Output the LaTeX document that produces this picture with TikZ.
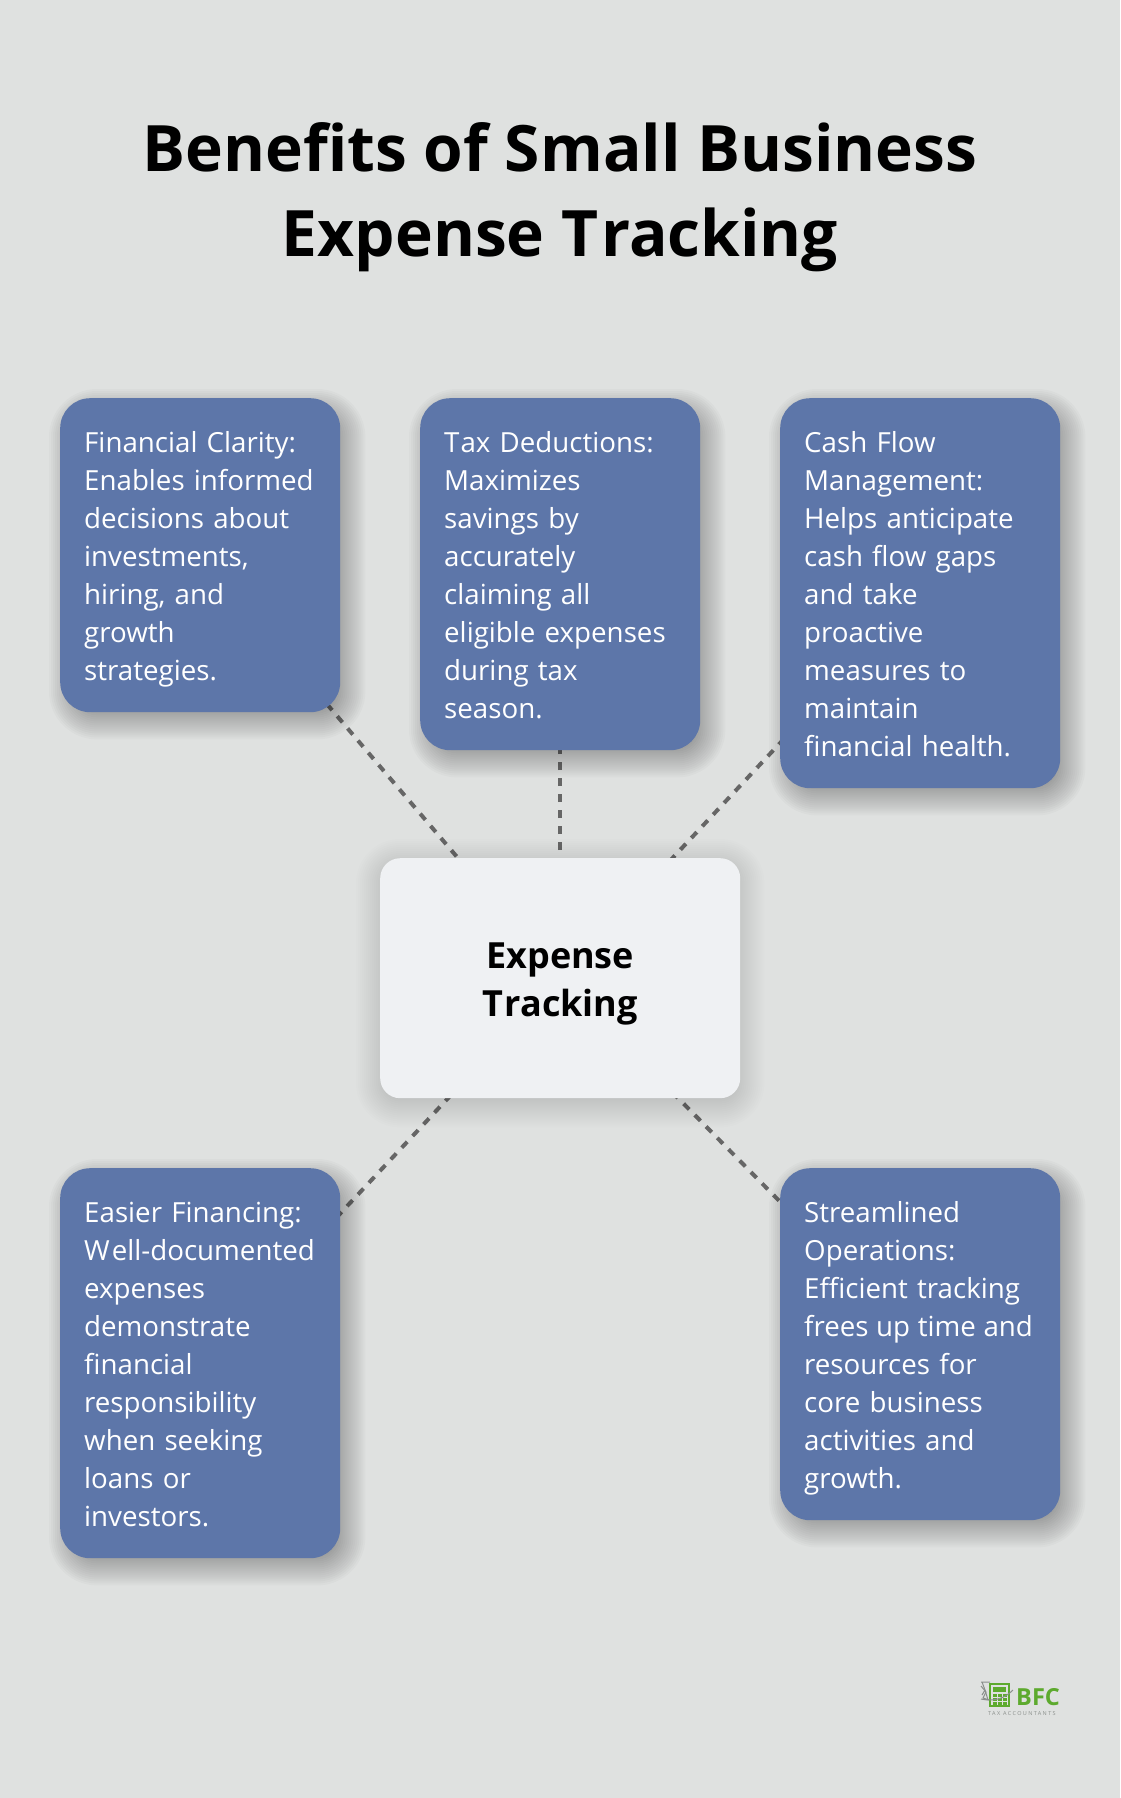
\documentclass[tikz,border=0pt]{standalone}
\usepackage{fontspec}
\setmainfont{Open Sans}
\usetikzlibrary{calc,backgrounds}
\definecolor{bgc}{HTML}{DFE1E0}
\definecolor{bluec}{HTML}{5D76A9}
\definecolor{centerc}{HTML}{EFF1F3}
\definecolor{linec}{HTML}{666666}
\definecolor{logog}{HTML}{5DAA2E}
\definecolor{logob}{HTML}{8A8F8C}
\newcommand{\lstrut}{\rule[-8pt]{0pt}{38pt}}
\newcommand{\softshadow}[7]{% node, radius, dx, dy, half-range, step, opacity
  \pgfmathtruncatemacro{\kstart}{-#5}
  \pgfmathtruncatemacro{\knext}{-#5+#6}
  \foreach \k in {\kstart,\knext,...,#5}{%
    \pgfmathsetmacro{\rr}{max(#2+\k,0.1)}
    \fill[black,opacity=#7,rounded corners=\rr pt]
      ($(#1.south west)+(#3-\k,#4+\k)$) rectangle ($(#1.north east)+(#3+\k,#4-\k)$);
  }%
}
\tikzset{
  benefit/.style={anchor=north west,fill=bluec,text=white,rounded corners=30pt,
    text width=232pt,inner xsep=24pt,inner ysep=24pt,align=left,
    font=\fontsize{27.7}{38}\selectfont},
  hub/.style={anchor=north west,fill=centerc,text=black,rounded corners=20pt,
    minimum width=360pt,minimum height=240pt,align=center,inner sep=0pt,
    font=\fontsize{36}{48}\selectfont\bfseries},
  heading/.style={align=center,text=black,inner sep=0pt,
    font=\fontsize{64}{85}\selectfont\bfseries},
  link/.style={draw=linec,line width=4pt,dash pattern=on 8pt off 8pt}
}
\begin{document}
\begin{tikzpicture}[x=1pt,y=-1pt]
\useasboundingbox (0,0) rectangle (1120,1798);
\node[heading] (title) at (560,197) {Benefits of Small Business\\Expense T\kern3pt racking};
\node[benefit] (b1) at (60,398) {\lstrut Financial Clarity:\\\lstrut Enables informed\\\lstrut decisions about\\\lstrut investments,\\\lstrut hiring, and\\\lstrut growth\\\lstrut strategies.};
\node[benefit] (b2) at (420,398) {\lstrut T\kern1pt ax Deductions:\\\lstrut Maximizes\\\lstrut savings by\\\lstrut accurately\\\lstrut claiming all\\\lstrut eligible expenses\\\lstrut during tax\\\lstrut season.};
\node[benefit] (b3) at (780,398) {\lstrut Cash Flow\\\lstrut Management:\\\lstrut Helps anticipate\\\lstrut cash flow gaps\\\lstrut and take\\\lstrut proactive\\\lstrut measures to\\\lstrut maintain\\\lstrut financial health.};
\node[benefit] (b4) at (60,1168) {\lstrut Easier Financing:\\\lstrut W\kern2pt ell-documented\\\lstrut expenses\\\lstrut demonstrate\\\lstrut financial\\\lstrut responsibility\\\lstrut when seeking\\\lstrut loans or\\\lstrut investors.};
\node[benefit] (b5) at (780,1168) {\lstrut Streamlined\\\lstrut Operations:\\\lstrut Efficient tracking\\\lstrut \mbox{frees\hskip 7.6pt up\hskip 7.6pt time\hskip 7.6pt and}\\\lstrut resources for\\\lstrut core business\\\lstrut activities and\\\lstrut growth.};
\node[hub] (hub) at (380,858) {\rule{0pt}{36.5pt}Expense\\T\kern1.5pt racking};
\begin{pgfonlayer}{background}
  \fill[bgc] (0,0) rectangle (1120,1798);
  \foreach \t in {b1,b2,b3,b4,b5}{\draw[link] (hub.center) -- (\t.center);}
  \foreach \t in {b1,b2,b3,b4,b5}{\softshadow{\t}{30}{7}{9}{18}{2}{0.018}}
  \softshadow{hub}{20}{0}{5}{24}{2}{0.007}
\end{pgfonlayer}
% logo
\begin{scope}
  \draw[logob,line width=1pt] (981,1682) -- (990,1682) (982,1682) -- (985,1690) -- (982,1695) (985,1690) -- (988,1700);
  \draw[logob,line width=1pt] (981,1686) -- (986,1692) -- (983,1698) -- (989,1700);
  \draw[logog,line width=2pt] (990,1684) rectangle (1009,1706);
  \fill[logog] (993,1687) rectangle (1006,1692);
  \foreach \a in {0,1,2}{\foreach \b in {0,1,2}{\fill[logog] (992.5+5*\a,1694+4*\b) rectangle ++(4,3);}}
  \draw[logob,line width=1pt] (981,1699) .. controls (995,1702) and (1005,1698) .. (1013,1690);
  \node[inner sep=0pt,anchor=base west,text=logog,font=\fontsize{23.5}{24}\selectfont\bfseries] (bfc) at (1016,1705) {BFC};
  \node[inner sep=0pt,anchor=base west,text=logob,font=\fontsize{5.5}{6}\selectfont\addfontfeature{LetterSpace=25}] (tax) at (988,1715) {TAX ACCOUNTANTS};
\end{scope}
\end{tikzpicture}
\end{document}
